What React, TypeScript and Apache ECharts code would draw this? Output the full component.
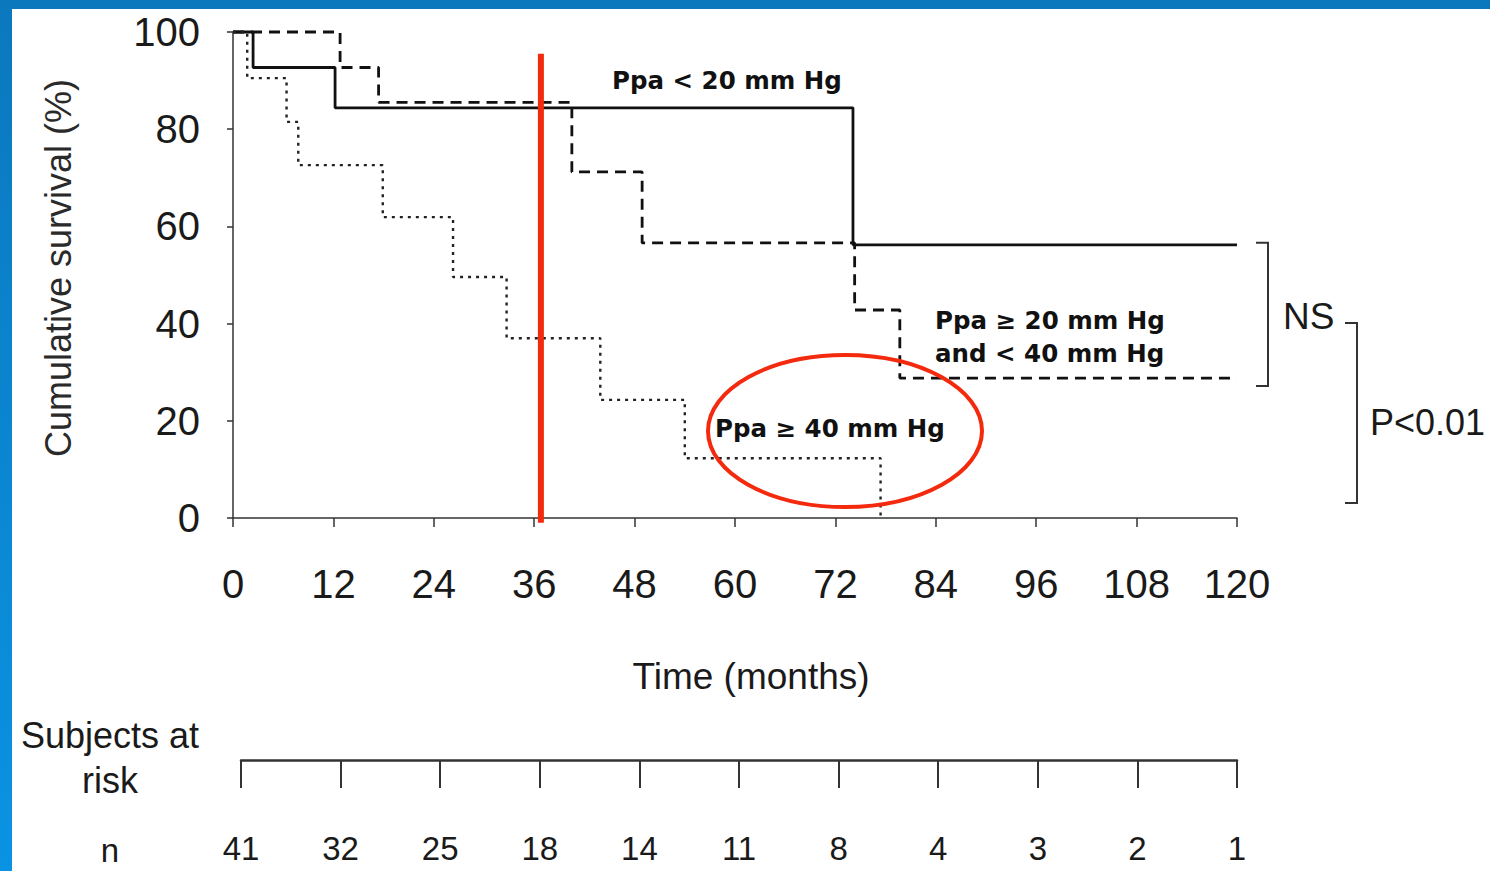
import React, { useEffect, useRef } from "react";
import * as echarts from "echarts";

// ---- data ----
const monthTicks = [0, 12, 24, 36, 48, 60, 72, 84, 96, 108, 120];
const riskN = [41, 32, 25, 18, 14, 11, 8, 4, 3, 2, 1];
const survivalTicks = [0, 20, 40, 60, 80, 100];

// Ppa < 20 mm Hg (solid)
const ppaLow: [number, number][] = [
  [0, 100], [2.4, 92.7], [12.2, 84.4], [74.1, 56.2], [120, 56.2],
];
// Ppa >= 20 and < 40 mm Hg (dashed)
const ppaMid: [number, number][] = [
  [0, 100], [12.8, 92.7], [17.4, 85.5], [40.5, 71.2], [48.9, 56.6],
  [74.3, 42.8], [79.7, 28.8], [120, 28.8],
];
// Ppa >= 40 mm Hg (dotted)
const ppaHigh: [number, number][] = [
  [0, 100], [1.7, 90.5], [6.4, 81.5], [7.8, 72.6], [17.9, 61.9],
  [26.3, 49.6], [32.7, 37.0], [43.9, 24.3], [54.0, 12.3], [77.4, 0],
];
const markerMonth = 36.8;

const AX = "Liberation Sans, Arial, sans-serif";
const BOLD = "DejaVu Sans, sans-serif";
const INK = "#1a1a1a";

export default function App() {
  const ref = useRef<HTMLDivElement>(null);
  useEffect(() => {
    if (!ref.current) return;
    const chart = echarts.init(ref.current, undefined, { renderer: "svg" });
    const axisLine = { show: true, lineStyle: { color: "#333", width: 1.5 } };
    chart.setOption({
      animation: false,
      backgroundColor: "#ffffff",
      grid: [
        { left: 233, right: 253, top: 32, height: 486 },
        { left: 241, right: 253, top: 759, height: 1 },
      ],
      xAxis: [
        {
          type: "value", gridIndex: 0, min: 0, max: 120, interval: 12,
          axisLine, splitLine: { show: false },
          axisTick: { show: true, length: 9, lineStyle: { color: "#333", width: 1.5 } },
          axisLabel: {
            fontSize: 40, lineHeight: 40, color: INK, fontFamily: AX, margin: 46,
            formatter: (v: number) => String(monthTicks[Math.round(v / 12)] ?? v),
          },
        },
        {
          type: "value", gridIndex: 1, min: 0, max: 120, interval: 12,
          axisLine: { show: true, lineStyle: { color: "#333", width: 2.5 } },
          splitLine: { show: false },
          axisTick: { show: true, length: 28, lineStyle: { color: "#333", width: 2 } },
          axisLabel: {
            fontSize: 33, lineHeight: 33, color: INK, fontFamily: AX, margin: 72,
            formatter: (v: number) => String(riskN[Math.round(v / 12)] ?? ""),
          },
        },
      ],
      yAxis: [
        {
          type: "value", gridIndex: 0, min: 0, max: 100, interval: 20,
          axisLine, splitLine: { show: false },
          axisTick: { show: true, length: 6, lineStyle: { color: "#333", width: 1.5 } },
          axisLabel: {
            fontSize: 40, color: INK, fontFamily: AX, margin: 33,
            formatter: (v: number) => String(survivalTicks[Math.round(v / 20)] ?? v),
          },
        },
        { type: "value", gridIndex: 1, show: false, min: 0, max: 1 },
      ],
      series: [
        {
          name: "Ppa < 20 mm Hg", type: "line", step: "end", data: ppaLow,
          symbol: "none", clip: false, xAxisIndex: 0, yAxisIndex: 0,
          lineStyle: { color: "#111", width: 2.8, type: "solid" },
        },
        {
          name: "Ppa ≥ 20 mm Hg and < 40 mm Hg", type: "line", step: "end", data: ppaMid,
          symbol: "none", clip: false, xAxisIndex: 0, yAxisIndex: 0,
          lineStyle: { color: "#111", width: 2.8, type: [11, 7] },
        },
        {
          name: "Ppa ≥ 40 mm Hg", type: "line", step: "end", data: ppaHigh,
          symbol: "none", clip: false, xAxisIndex: 0, yAxisIndex: 0,
          lineStyle: { color: "#222", width: 2.4, type: [3, 5] },
        },
      ],
    });

    const px = (x: number, y: number) =>
      chart.convertToPixel({ gridIndex: 0 }, [x, y]) as number[];
    const top = px(markerMonth, 95.5);
    const bot = px(markerMonth, -1);
    const lowEnd = px(120, ppaLow[ppaLow.length - 1][1]);
    const midEnd = px(120, ppaMid[ppaMid.length - 1][1]);

    const label = (text: string, x: number, y: number, extra: any = {}) => ({
      type: "text", x, y, z: 50,
      style: {
        text, fill: "#111", font: `bold 24.5px ${BOLD}`,
        align: "left", verticalAlign: "middle", ...extra,
      },
    });
    const plain = (text: string, x: number, y: number, size: number, align = "center") => ({
      type: "text", x, y, z: 50,
      style: { text, fill: INK, font: `${size}px ${AX}`, align, verticalAlign: "middle" },
    });
    const bracket = (x0: number, x1: number, y0: number, y1: number) => ({
      type: "polyline", z: 40,
      shape: { points: [[x0, y0], [x1, y0], [x1, y1], [x0, y1]] },
      style: { stroke: "#333", lineWidth: 2, fill: "none" },
    });

    chart.setOption({
      graphic: [
        { type: "rect", shape: { x: 0, y: 0, width: 1490, height: 9 }, style: { fill: "#0b78be" }, z: 200 },
        {
          type: "rect", shape: { x: 0, y: 0, width: 12, height: 871 }, z: 200,
          style: {
            fill: new echarts.graphic.LinearGradient(0, 0, 0, 1, [
              { offset: 0, color: "#0b78be" },
              { offset: 1, color: "#0a93e3" },
            ]),
          },
        },
        {
          type: "text", x: 58, y: 268, rotation: Math.PI / 2, z: 50,
          style: {
            text: "Cumulative survival (%)", fill: "#2a2a2a", font: `36px ${AX}`,
            align: "center", verticalAlign: "middle",
          },
        },
        plain("Time (months)", 751, 676, 37),
        plain("Subjects at", 110, 735, 36),
        plain("risk", 110, 780, 36),
        plain("n", 110, 850, 33),
        label("Ppa < 20 mm Hg", 612, 80),
        label("Ppa ≥ 20 mm Hg", 935, 320),
        label("and < 40 mm Hg", 935, 353),
        label("Ppa ≥ 40 mm Hg", 715, 428),
        plain("NS", 1283, 316, 37, "left"),
        plain("P<0.01", 1370, 422, 36, "left"),
        bracket(1256, 1268, lowEnd[1] - 2, midEnd[1] + 8),
        bracket(1345, 1357, 323, 503),
        {
          type: "line", z: 100,
          shape: { x1: top[0], y1: top[1], x2: bot[0], y2: bot[1] },
          style: { stroke: "#f42a0e", lineWidth: 6 },
        },
        {
          type: "ellipse", z: 100,
          shape: { cx: 845, cy: 431, rx: 137, ry: 76 },
          style: { stroke: "#f42a0e", lineWidth: 4, fill: "none" },
        },
      ],
    });
    return () => chart.dispose();
  }, []);
  return (
    <div
      ref={ref}
      style={{ position: "fixed", left: 0, top: 0, width: 1490, height: 871, background: "#fff" }}
    />
  );
}
